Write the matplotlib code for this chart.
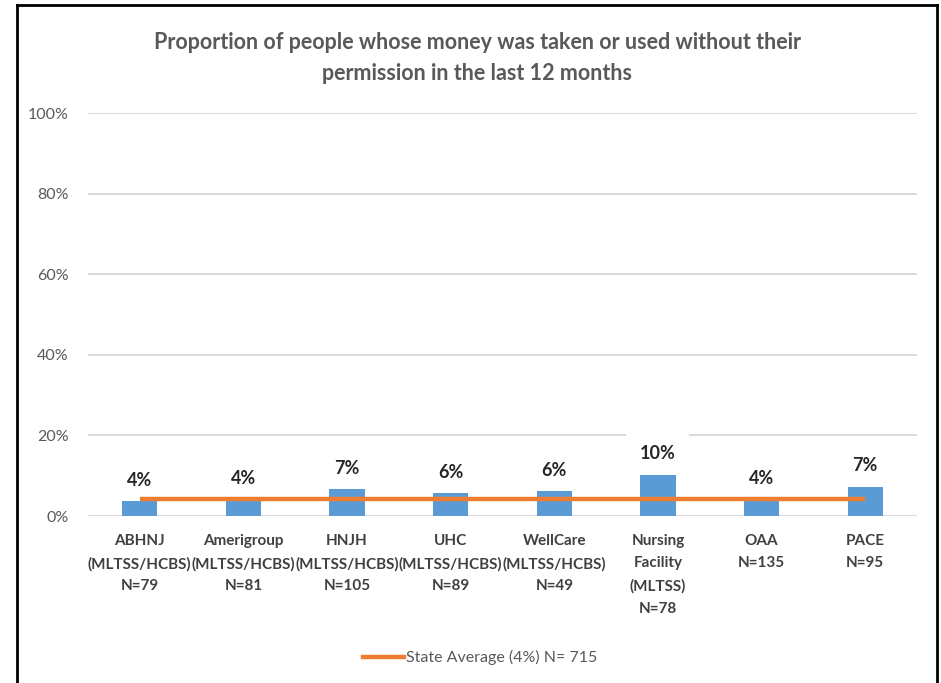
import numpy as np
import matplotlib.pyplot as plt
from matplotlib.lines import Line2D

plt.rcParams['font.family'] = ['Lato', 'DejaVu Sans']

categories = ['ABHNJ\n(MLTSS/HCBS)\nN=79', 'Amerigroup\n(MLTSS/HCBS)\nN=81', 'HNJH\n(MLTSS/HCBS)\nN=105',
              'UHC\n(MLTSS/HCBS)\nN=89', 'WellCare\n(MLTSS/HCBS)\nN=49', 'Nursing\nFacility\n(MLTSS)\nN=78',
              'OAA\nN=135', 'PACE\nN=95']
values = [3.7, 4.0, 6.6, 5.6, 6.1, 10.3, 4.0, 7.3]
labels = ['4%', '4%', '7%', '6%', '6%', '10%', '4%', '7%']
state_avg = 4.1
title = 'Proportion of people whose money was taken or used without their\npermission in the last 12 months'

fig = plt.figure(figsize=(9.41, 6.83), dpi=100)
ax = fig.add_axes([0.0935, 0.2445, 0.881, 0.590])

x = np.arange(len(categories))
ax.bar(x, values, width=0.34, color='#5B9BD5', zorder=2)
ax.plot(x, [state_avg] * len(x), color='#ED7D31', linewidth=3.2, zorder=3, solid_capstyle='butt')

# labels sit on a white box (under bars and line) so the box hides the gridline behind it
for xi, v, lab in zip(x, values, labels):
    ax.annotate(lab, (xi, v), xytext=(0, 9), textcoords='offset points', ha='center', va='bottom',
                fontsize=13, fontweight='bold', color='#262626',
                bbox=dict(facecolor='white', edgecolor='none', boxstyle='square,pad=0.75'), zorder=1)

ax.set_xlim(-0.5, len(x) - 0.5)
ax.set_ylim(0, 100)
ax.set_yticks(range(0, 101, 20))
ax.set_yticklabels([f'{t}%' for t in range(0, 101, 20)], fontsize=11.5, color='#595959')
ax.set_xticks(x)
ax.set_xticklabels(categories, fontsize=11, color='#404040', fontweight='bold', linespacing=1.75)
ax.tick_params(axis='both', length=0)
ax.tick_params(axis='y', pad=14)
ax.tick_params(axis='x', pad=13)
ax.grid(axis='y', color='#D9D9D9', linewidth=1.4, zorder=0)
ax.set_axisbelow(True)
for s in ax.spines.values():
    s.set_visible(False)

fig.text(0.507, 0.915, title, ha='center', va='center', fontsize=15.5, fontweight='bold',
         color='#595959', linespacing=1.55)

handle = Line2D([], [], color='#ED7D31', linewidth=3.2)
fig.legend([handle], ['State Average (4%) N= 715'], loc='center', bbox_to_anchor=(0.51, 0.037),
           frameon=False, fontsize=11.5, labelcolor='#595959', handlelength=2.6, handletextpad=0.1)

# black frame (left, top, right)
fig.add_artist(Line2D([17 / 941, 17 / 941], [0, 1 - 5 / 683], color='black', linewidth=2, transform=fig.transFigure))
fig.add_artist(Line2D([17 / 941, 937 / 941], [1 - 5 / 683, 1 - 5 / 683], color='black', linewidth=2, transform=fig.transFigure))
fig.add_artist(Line2D([937 / 941, 937 / 941], [0, 1 - 5 / 683], color='black', linewidth=2, transform=fig.transFigure))

fig.savefig('out.png', dpi=100)
